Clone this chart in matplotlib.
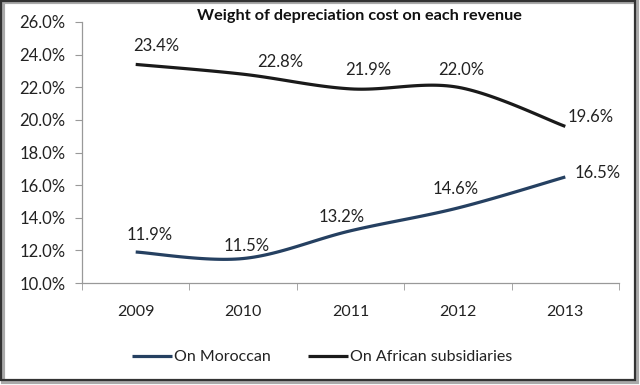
import numpy as np
import matplotlib
matplotlib.use("Agg")
import matplotlib.pyplot as plt
from matplotlib.patches import Rectangle
from matplotlib.ticker import FixedLocator

years = ["2009", "2010", "2011", "2012", "2013"]
moroccan = [11.9, 11.5, 13.2, 14.6, 16.5]
african = [23.4, 22.8, 21.9, 22.0, 19.6]
yticks = [10, 12, 14, 16, 18, 20, 22, 24, 26]
title = "Weight of depreciation cost on each revenue"

# label offsets in pixels (style)
off_mor = [(14, 17), (4, 13), (-9, 14), (-2, 19), (32, 4)]
off_afr = [(21, 18), (37, 12), (18, 19), (3, 17), (25, 9)]

plt.rcParams['font.family'] = ['Lato', 'DejaVu Sans']

def smooth(xs, ys, n=30):
    # Bezier smoothing (spreadsheet-style "smoothed line")
    xs = np.asarray(xs, float); ys = np.asarray(ys, float)
    px = np.concatenate([[xs[0]], xs, [xs[-1]]])
    py = np.concatenate([[ys[0]], ys, [ys[-1]]])
    ox, oy = [], []
    t = np.linspace(0, 1, n)
    for i in range(1, len(px) - 2):
        p0 = np.array([px[i], py[i]]); p3 = np.array([px[i+1], py[i+1]])
        p1 = p0 + (np.array([px[i+1], py[i+1]]) - np.array([px[i-1], py[i-1]])) / 6
        p2 = p3 - (np.array([px[i+2], py[i+2]]) - np.array([px[i], py[i]])) / 6
        b = ((1-t)**3)[:, None]*p0 + (3*(1-t)**2*t)[:, None]*p1 + (3*(1-t)*t**2)[:, None]*p2 + (t**3)[:, None]*p3
        ox.extend(b[:, 0]); oy.extend(b[:, 1])
    return np.array(ox), np.array(oy)

fig = plt.figure(figsize=(6.4, 3.85), dpi=100)
ax = fig.add_axes([82/640, 1 - 283/385, (619-82)/640, (283-22)/385])

x = np.arange(len(years))
c_mor = "#254061"
c_afr = "#1a1a1a"
sx, sy = smooth(x, moroccan)
ax.plot(sx, sy, color=c_mor, lw=2.3, solid_capstyle='butt', label="On Moroccan")
sx, sy = smooth(x, african)
ax.plot(sx, sy, color=c_afr, lw=2.3, solid_capstyle='butt', label="On African subsidiaries")

for xi, v, (dx, dy) in zip(x, moroccan, off_mor):
    ax.annotate(f"{v:.1f}%", (xi, v), xytext=(dx, dy), textcoords='offset pixels',
                ha='center', va='center', fontsize=12, color="#222222")
for xi, v, (dx, dy) in zip(x, african, off_afr):
    ax.annotate(f"{v:.1f}%", (xi, v), xytext=(dx, dy), textcoords='offset pixels',
                ha='center', va='center', fontsize=12, color="#222222")

ax.set_xlim(-0.5, len(years) - 0.5)
ax.set_ylim(10, 26)
ax.set_yticks(yticks)
ax.set_yticklabels([f"{t:.1f}%" for t in yticks], fontsize=12, color="#222222")
ax.set_xticks(x)
ax.set_xticklabels(years, fontsize=11.5, color="#222222")
ax.xaxis.set_minor_locator(FixedLocator(np.arange(-0.5, len(years), 1.0)))
ax.tick_params(axis='x', which='major', length=0, pad=16)
ax.tick_params(axis='x', which='minor', length=5, color="#999999", direction='out')
ax.tick_params(axis='y', length=5, color="#999999", direction='out', pad=7)
for s in ['top', 'right']:
    ax.spines[s].set_visible(False)
for s in ['left', 'bottom']:
    ax.spines[s].set_color("#999999")
    ax.spines[s].set_linewidth(0.9)

fig.text(359/640, 1 - 16/385, title, ha='center', va='center', fontsize=11.7,
         fontweight='bold', color="#111111")

leg = fig.legend(loc='center', bbox_to_anchor=(322/640, 1 - 357/385), ncol=2,
                 frameon=False, fontsize=11.5, handlelength=2.5, handletextpad=0.15,
                 columnspacing=2.3)
for t in leg.get_texts():
    t.set_color("#222222")

# outer frame with shadow
fig.patches.append(Rectangle((3/640, 3/385), 634/640, 380/385, transform=fig.transFigure,
                             fill=False, edgecolor="#aaaaaa", lw=3, zorder=0))
fig.patches.append(Rectangle((1/640, 5/385), 634/640, 379/385, transform=fig.transFigure,
                             fill=False, edgecolor="#333333", lw=1.6, zorder=1))

fig.savefig("out.png", dpi=100)
